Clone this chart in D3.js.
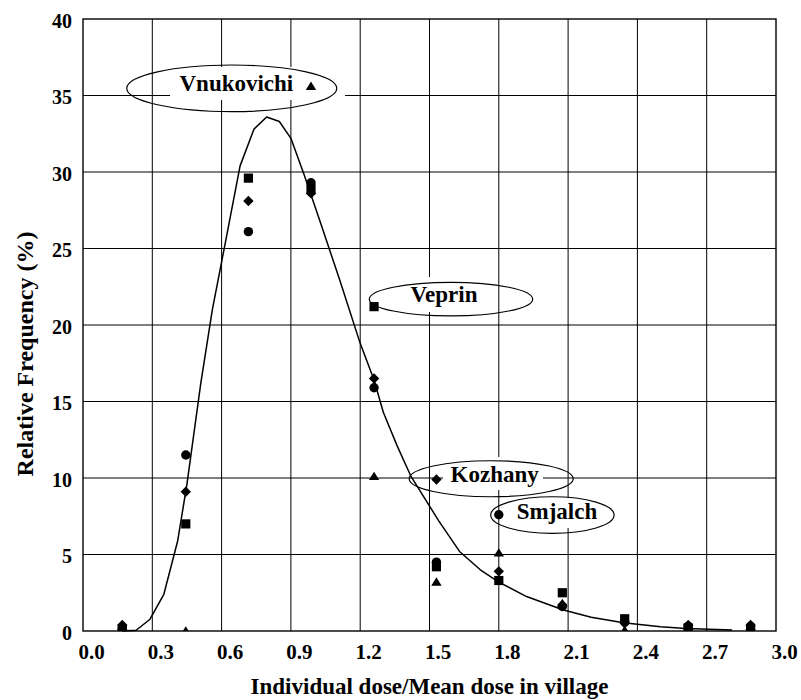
<!DOCTYPE html>
<html>
<head>
<meta charset="utf-8">
<script src="https://cdn.jsdelivr.net/npm/d3@7"></script>
<style>
  html, body { margin: 0; padding: 0; background: #fff; }
  svg { display: block; }
  svg text { font-family: "Liberation Serif", "Times New Roman", serif !important; font-weight: bold; fill: #000; }
</style>
</head>
<body>
<svg id="chart" width="801" height="700"></svg>
<script>
// Ratio of individual dose to the village mean dose (bin centres)
const doseBins = [0.17, 0.445, 0.716, 0.987, 1.26, 1.53, 1.80, 2.075, 2.345, 2.62, 2.89];

// Relative frequency (%) per village
const smjalch    = [0.2, 11.5, 26.1, 29.3, 15.9, 4.5, 7.6, 1.6, 0.6, 0.3, 0.3];   // circles
const kozhany    = [0.4, 9.1, 28.1, 28.6, 16.5, 9.9, 3.9, 1.7, 0.5, 0.4, 0.4];    // diamonds
const veprin     = [0.1, 7.0, 29.6, 28.9, 21.2, 4.2, 3.3, 2.5, 0.8, 0.2, 0.1];    // squares
const vnukovichi = [0.3, 0.0, null, 35.6, 10.1, 3.2, 5.1, 1.8, 0.05, 0.3, 0.3];   // triangles

// Fitted distribution curve
const fitX = [0.17, 0.23, 0.29, 0.35, 0.41, 0.45, 0.51, 0.56, 0.61, 0.68, 0.74, 0.795, 0.85, 0.90, 0.96,
              1.03, 1.11, 1.20, 1.26, 1.30, 1.36, 1.42, 1.54, 1.63, 1.72, 1.80, 1.92, 2.08, 2.20, 2.34,
              2.50, 2.61, 2.81];
const fitY = [0.0, 0.05, 0.77, 2.4, 5.9, 9.6, 16.2, 21.0, 24.9, 30.4, 32.8, 33.6, 33.3, 32.2, 29.7,
              26.6, 23.0, 18.8, 16.4, 14.3, 12.1, 10.1, 7.2, 5.2, 4.0, 3.2, 2.25, 1.37, 0.9, 0.54,
              0.28, 0.17, 0.07];

// Axis ticks
const xTicks = [0.0, 0.3, 0.6, 0.9, 1.2, 1.5, 1.8, 2.1, 2.4, 2.7, 3.0];
const yTicks = [0, 5, 10, 15, 20, 25, 30, 35, 40];

const villageNames = ["Smjalch", "Kozhany", "Veprin", "Vnukovichi"];

// ---- layout ----
const serif = '"Liberation Serif", "Times New Roman", serif';
const plot = { left: 83, top: 19, right: 776, bottom: 631 };
const svg = d3.select("#chart");

const x = d3.scaleLinear().domain([0, 3]).range([plot.left, plot.right]);
const y = d3.scaleLinear().domain([0, 40]).range([plot.bottom, plot.top]);

// marker shapes
const shapes = {
  circle: { draw(ctx) { ctx.moveTo(4.7, 0); ctx.arc(0, 0, 4.7, 0, 2 * Math.PI); } },
  diamond: { draw(ctx) { ctx.moveTo(0, -5.2); ctx.lineTo(5.2, 0); ctx.lineTo(0, 5.2); ctx.lineTo(-5.2, 0); ctx.closePath(); } },
  square: { draw(ctx) { ctx.rect(-4.6, -4.6, 9.2, 9.2); } },
  triangle: { draw(ctx) { ctx.moveTo(0, -4.8); ctx.lineTo(5.2, 3.6); ctx.lineTo(-5.2, 3.6); ctx.closePath(); } }
};

const series = [
  { name: villageNames[1], values: kozhany, shape: shapes.diamond },
  { name: villageNames[0], values: smjalch, shape: shapes.circle },
  { name: villageNames[2], values: veprin, shape: shapes.square },
  { name: villageNames[3], values: vnukovichi, shape: shapes.triangle }
];

// ---- grid ----
const grid = svg.append("g").attr("stroke", "#000").attr("stroke-width", 1).attr("fill", "none");
grid.selectAll("line.v").data(xTicks.slice(1, -1)).join("line")
  .attr("x1", d => x(d)).attr("x2", d => x(d))
  .attr("y1", plot.top).attr("y2", plot.bottom);
grid.selectAll("line.h").data(yTicks.slice(1, -1)).join("line")
  .attr("x1", plot.left).attr("x2", plot.right)
  .attr("y1", d => y(d)).attr("y2", d => y(d));

// axes (labels only, no tick marks)
const xAxis = d3.axisBottom(x).tickValues(xTicks).tickFormat(d3.format(".1f")).tickSize(0).tickPadding(0);
const yAxis = d3.axisLeft(y).tickValues(yTicks).tickFormat(d3.format("d")).tickSize(0).tickPadding(0);

const gx = svg.append("g").attr("transform", `translate(0,${plot.bottom})`).call(xAxis)
  .attr("font-family", serif).attr("font-size", 21);
gx.select(".domain").remove();
gx.selectAll("text")
  .style("font-family", serif).style("font-size", "21px").style("font-weight", "bold")
  .attr("dy", null).attr("y", 28).attr("dx", 8);

const gy = svg.append("g").attr("transform", `translate(${plot.left},0)`).call(yAxis)
  .attr("font-family", serif).attr("font-size", 20);
gy.select(".domain").remove();
gy.selectAll("text")
  .style("font-family", serif).style("font-size", "20px").style("font-weight", "bold")
  .attr("x", -11).attr("dy", "0.4em");
svg.selectAll(".tick text").attr("fill", "#000");

// frame
svg.append("rect")
  .attr("x", plot.left).attr("y", plot.top)
  .attr("width", plot.right - plot.left).attr("height", plot.bottom - plot.top)
  .attr("fill", "none").attr("stroke", "#000").attr("stroke-width", 1.4);

// axis titles
svg.append("text")
  .attr("x", (plot.left + plot.right) / 2).attr("y", 694)
  .attr("text-anchor", "middle").style("font-size", "23px")
  .text("Individual dose/Mean dose in village");

svg.append("text")
  .attr("transform", "translate(33,354) rotate(-90)")
  .attr("text-anchor", "middle").style("font-size", "24px")
  .text("Relative Frequency (%)");

// ---- village labels (ellipse callouts) ----
// centre of ellipse and text in data units, radii and masking box in pixels
const callouts = [
  { text: villageNames[3], cx: 0.644, cy: 35.47, rx: 105, ry: 23.3, tx: 0.664, ty: 35.31, box: [170, 345, 67, 100] },
  { text: villageNames[2], cx: 1.593, cy: 21.69, rx: 81.7, ry: 16.8, tx: 1.563, ty: 21.48, box: [402, 486, 277, 312] },
  { text: villageNames[1], cx: 1.767, cy: 9.95, rx: 82, ry: 18, tx: 1.782, ty: 9.75, box: [443, 543, 457, 490] },
  { text: villageNames[0], cx: 2.032, cy: 7.58, rx: 61.7, ry: 18.3, tx: 2.052, ty: 7.30, box: [510, 604, 498, 528] }
];

const lab = svg.append("g");
lab.selectAll("rect").data(callouts).join("rect")
  .attr("x", d => d.box[0]).attr("y", d => d.box[2])
  .attr("width", d => d.box[1] - d.box[0]).attr("height", d => d.box[3] - d.box[2])
  .attr("fill", "#fff");
lab.selectAll("ellipse").data(callouts).join("ellipse")
  .attr("cx", d => x(d.cx)).attr("cy", d => y(d.cy))
  .attr("rx", d => d.rx).attr("ry", d => d.ry)
  .attr("fill", "none").attr("stroke", "#000").attr("stroke-width", 1.2);
lab.selectAll("text").data(callouts).join("text")
  .attr("x", d => x(d.tx)).attr("y", d => y(d.ty))
  .attr("text-anchor", "middle").style("font-size", "23px")
  .text(d => d.text);

// ---- fitted curve ----
const fit = fitX.map((v, i) => [v, fitY[i]]);
svg.append("path")
  .datum(fit)
  .attr("fill", "none").attr("stroke", "#000").attr("stroke-width", 1.5)
  .attr("stroke-linejoin", "round")
  .attr("d", d3.line().x(d => x(d[0])).y(d => y(d[1])));

// ---- markers ----
svg.append("clipPath").attr("id", "plotClip")
  .append("rect")
  .attr("x", plot.left).attr("y", plot.top)
  .attr("width", plot.right - plot.left).attr("height", plot.bottom - plot.top);

const marks = svg.append("g").attr("clip-path", "url(#plotClip)");
series.forEach(s => {
  const pts = doseBins.map((b, i) => ({ b, v: s.values[i] })).filter(p => p.v !== null);
  marks.append("g").selectAll("path").data(pts).join("path")
    .attr("transform", p => `translate(${x(p.b)},${y(p.v)})`)
    .attr("d", d3.symbol().type(s.shape)())
    .attr("fill", "#000");
});
</script>
</body>
</html>
